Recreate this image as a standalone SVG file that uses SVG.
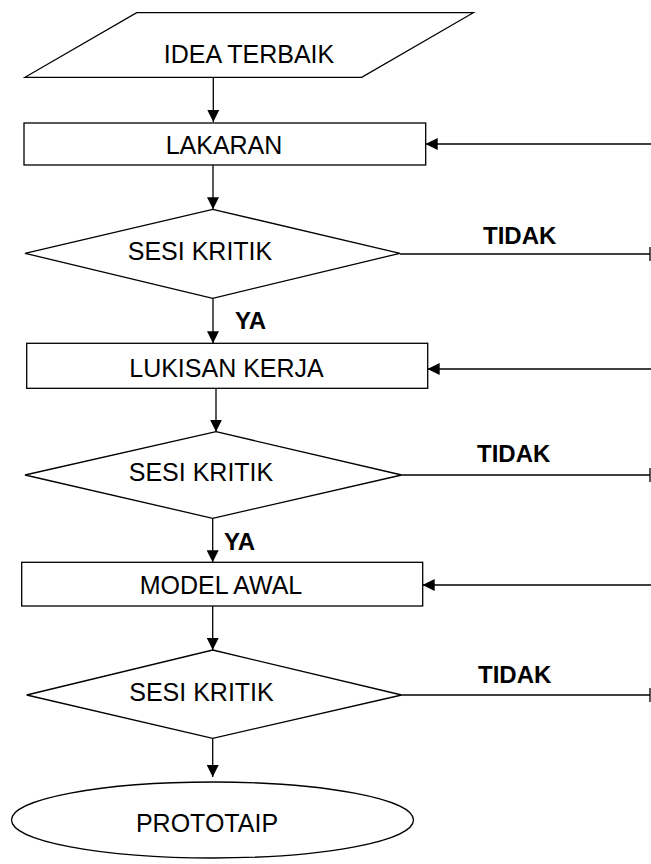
<svg xmlns="http://www.w3.org/2000/svg" width="651" height="864" viewBox="0 0 651 864">
<style>
.shape{fill:#fff;stroke:#000;stroke-width:1.3}
.ln{fill:none;stroke:#000;stroke-width:1.3}
.t{font-family:"Liberation Sans",Arial,sans-serif;font-size:25px;fill:#000;text-anchor:middle}
.b{font-family:"Liberation Sans",Arial,sans-serif;font-size:24px;font-weight:bold;fill:#000}
</style>
<defs>
<marker id="ah" markerUnits="userSpaceOnUse" markerWidth="12" markerHeight="12" refX="12" refY="6" orient="auto">
<path d="M0,0 L12,6 L0,12 z" fill="#000"/>
</marker>
</defs>
<rect width="651" height="864" fill="#fff"/>
<g id="connectors">
<line class="ln" x1="213.3" y1="77.3" x2="213.3" y2="122" marker-end="url(#ah)"/>
<line class="ln" x1="213" y1="165" x2="213" y2="209.3" marker-end="url(#ah)"/>
<line class="ln" x1="213" y1="298.3" x2="213" y2="343.3" marker-end="url(#ah)"/>
<line class="ln" x1="216" y1="388.3" x2="216" y2="431.7" marker-end="url(#ah)"/>
<line class="ln" x1="212.7" y1="518.3" x2="212.7" y2="562.3" marker-end="url(#ah)"/>
<line class="ln" x1="212.7" y1="606" x2="212.7" y2="650" marker-end="url(#ah)"/>
<line class="ln" x1="212.7" y1="738.3" x2="212.7" y2="777" marker-end="url(#ah)"/>
<line class="ln" x1="651" y1="144" x2="425.7" y2="144" marker-end="url(#ah)"/>
<line class="ln" x1="651" y1="369" x2="427.7" y2="369" marker-end="url(#ah)"/>
<line class="ln" x1="651" y1="585" x2="422.7" y2="585" marker-end="url(#ah)"/>
<line class="ln" x1="400" y1="254" x2="650" y2="254"/>
<line class="ln" x1="650" y1="247" x2="650" y2="261" stroke-width="2"/>
<line class="ln" x1="401.7" y1="475" x2="650" y2="475"/>
<line class="ln" x1="650" y1="468" x2="650" y2="482" stroke-width="2"/>
<line class="ln" x1="401.7" y1="695" x2="650" y2="695"/>
<line class="ln" x1="650" y1="688" x2="650" y2="702" stroke-width="2"/>
<text class="b" x="483" y="244">TIDAK</text>
<text class="b" x="477" y="462">TIDAK</text>
<text class="b" x="478" y="683">TIDAK</text>
<text class="b" x="235" y="329">YA</text>
<text class="b" x="224" y="550">YA</text>
</g>
<g id="idea">
<polygon class="shape" points="136.7,12.7 473.3,12.7 361.7,77.3 25,77.3"/>
<text class="t" x="249" y="63">IDEA TERBAIK</text>
</g>
<g id="lakaran">
<rect class="shape" x="24" y="123" width="401.7" height="42"/>
<text class="t" x="224" y="154">LAKARAN</text>
</g>
<g id="kritik1">
<polygon class="shape" points="212.7,209.3 400,253.3 212.7,298.3 25,253.3"/>
<text class="t" x="200" y="260">SESI KRITIK</text>
</g>
<g id="lukisan">
<rect class="shape" x="26.7" y="343.3" width="401" height="45"/>
<text class="t" x="226.5" y="377">LUKISAN KERJA</text>
</g>
<g id="kritik2">
<polygon class="shape" points="216,431.7 401.7,475 212.7,518.3 25,475"/>
<text class="t" x="201" y="481">SESI KRITIK</text>
</g>
<g id="model">
<rect class="shape" x="21.7" y="562.3" width="401" height="43.7"/>
<text class="t" x="221" y="594">MODEL AWAL</text>
</g>
<g id="kritik3">
<polygon class="shape" points="212.7,650 401.7,695 212.7,738.3 26.7,695"/>
<text class="t" x="201.5" y="701">SESI KRITIK</text>
</g>
<g id="prototaip">
<ellipse class="shape" cx="212.5" cy="820" rx="201" ry="38"/>
<text class="t" x="207" y="832">PROTOTAIP</text>
</g>
</svg>
